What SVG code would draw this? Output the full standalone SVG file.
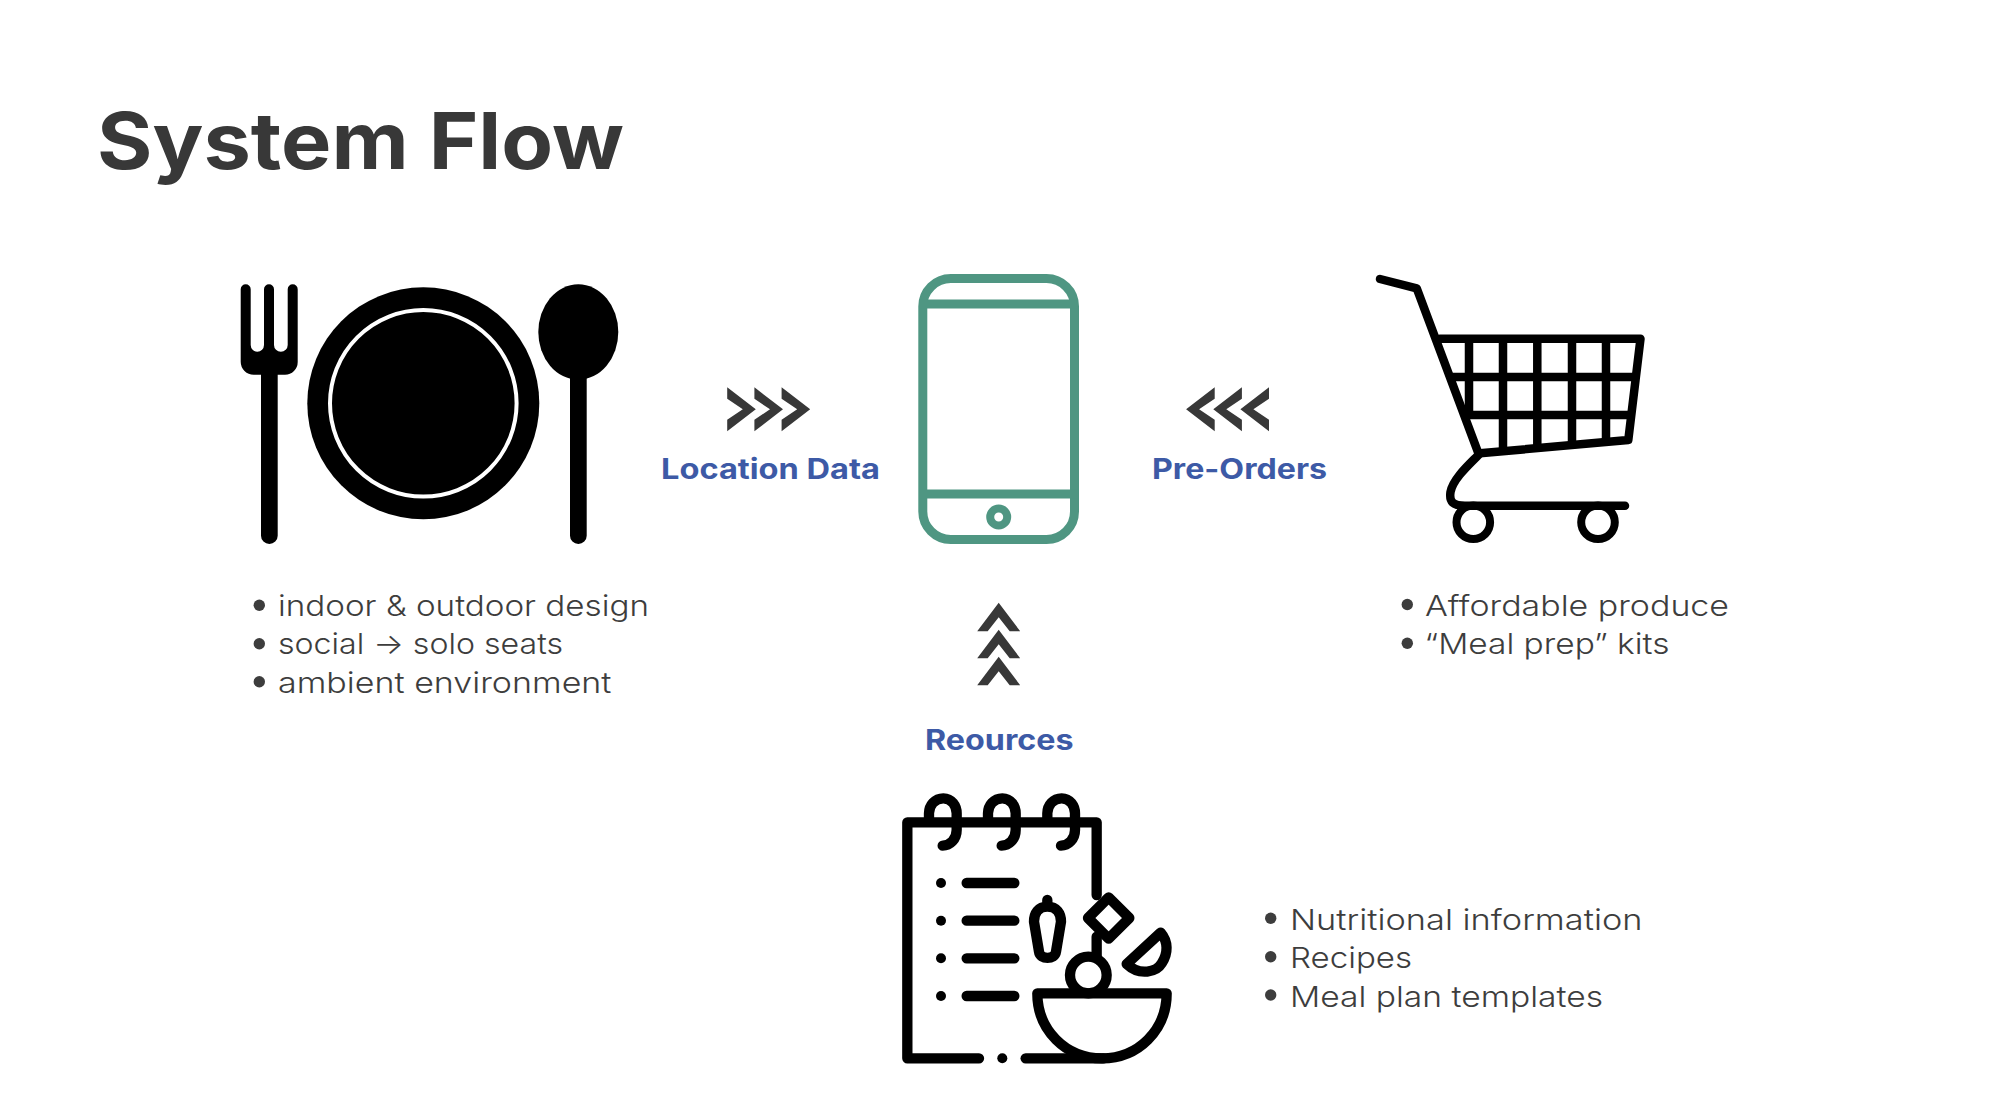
<svg xmlns="http://www.w3.org/2000/svg" width="1992" height="1105" viewBox="0 0 1992 1105">
<style>
.title{font:700 78px Inter,"Liberation Sans",sans-serif;fill:#383838}
.label{font:700 28px Inter,"Liberation Sans",sans-serif;fill:#3d5aa6}
.body{font:300 29px Inter,"Liberation Sans",sans-serif;fill:#3d3d3d}
.chev{fill:#383838}
.ink{fill:none;stroke:#000;stroke-linecap:round;stroke-linejoin:round}
.phone{fill:none;stroke:#4f9682;stroke-width:9}
</style>
<defs>
<polygon id="cr" points="0,-22 28.6,0 0,22 0,10.5 15.6,0 0,-10.5"/>
<polygon id="cu" points="-21.5,14.3 0,-14.3 21.5,14.3 11,14.3 0,0.3 -11,14.3"/>
</defs>
<rect width="1992" height="1105" fill="#fff"/>
<text class="title" x="97" y="169" textLength="527" lengthAdjust="spacingAndGlyphs">System Flow</text>
<g id="node-dining">
<path d="M240.7 289.3a5 5 0 0 1 10 0V345a5.5 5.5 0 0 0 13.3 0V289.3a5 5 0 0 1 10 0V345a5.5 5.5 0 0 0 13.7 0V289.3a5 5 0 0 1 10 0V362a12.7 12.7 0 0 1-12.7 12.7h-7.3V535.7a8.3 8.3 0 0 1-16.7 0V374.7h-7.3a13 13 0 0 1-13-13z" fill="#000"/>
<circle cx="423.3" cy="403.3" r="116"/>
<circle cx="423.3" cy="403.3" r="93.3" fill="none" stroke="#fff" stroke-width="4"/>
<ellipse cx="578.3" cy="332" rx="40" ry="47.7"/>
<path d="M570 370h16.7V535.7a8.3 8.3 0 0 1-16.7 0z"/>
<g id="list-dining">
<circle cx="259.3" cy="605.3" r="5.7" fill="#3d3d3d"/><circle cx="259.3" cy="643.7" r="5.7" fill="#3d3d3d"/><circle cx="259.3" cy="681.7" r="5.7" fill="#3d3d3d"/>
<text class="body" x="278" y="616" textLength="371" lengthAdjust="spacingAndGlyphs">indoor &amp; outdoor design</text>
<text class="body" x="278" y="654" textLength="285" lengthAdjust="spacingAndGlyphs">social → solo seats</text>
<text class="body" x="278" y="693" textLength="333.5" lengthAdjust="spacingAndGlyphs">ambient environment</text>
</g>
</g>
<g id="node-phone">
<rect class="phone" x="922.8" y="278.5" width="151.7" height="261" rx="28" ry="28"/>
<path class="phone" d="M920 304H1077M920 494H1077"/>
<circle cx="998.7" cy="517" r="8.5" fill="none" stroke="#4f9682" stroke-width="8"/>
</g>
<g id="node-cart">
<g class="ink" stroke-width="8.5">
<path d="M1380 279L1416.7 288.3L1478.3 453"/>
<path d="M1440 338.7H1640.5L1628.3 440L1480 453.3"/>
<path d="M1469 339V418M1503 339V450M1537.3 339V447M1572 339V444M1606 339V441" stroke-linecap="butt"/>
<path d="M1449 377H1636M1465 415H1631" stroke-linecap="butt"/>
<path d="M1480 453.3C1472 462 1453 478 1450.5 492C1449 502 1453 505.7 1465 505.7H1625"/>
</g>
<circle cx="1473.3" cy="522.3" r="16.8" fill="none" stroke="#000" stroke-width="8"/>
<circle cx="1598" cy="522.3" r="16.8" fill="none" stroke="#000" stroke-width="8"/>
<g id="list-cart">
<circle cx="1407.3" cy="604.5" r="5.7" fill="#3d3d3d"/><circle cx="1407.3" cy="643.3" r="5.7" fill="#3d3d3d"/>
<text class="body" x="1425" y="616" textLength="304" lengthAdjust="spacingAndGlyphs">Affordable produce</text>
<text class="body" x="1424.5" y="654.3" textLength="245" lengthAdjust="spacingAndGlyphs">“Meal prep” kits</text>
</g>
</g>
<g id="node-resources">
<g transform="translate(890 780) scale(.33333)" class="ink" stroke-width="31">
<path d="M267 835H52V127H620V345M620 470V530"/>
<path d="M117 120V100C117 75 135 55 160 55C185 55 200 78 200 100V150C200 178 180 197 158 197M294 120V100C294 75 312 55 337 55C362 55 377 78 377 100V150C377 178 357 197 335 197M472 120V100C472 75 490 55 515 55C540 55 555 78 555 100V150C555 178 535 197 513 197"/>
<path d="M230 309H373M230 422H373M230 535H373M230 648H373"/>
<path d="M407 835H640"/>
<path d="M442 640H830C830 750 745 835 636 835C527 835 442 750 442 640Z"/>
<circle cx="595" cy="585" r="55"/>
<path d="M656 352L718 414L656 476L594 414Z"/>
<path d="M812 458L710 552C750 590 800 575 815 550C835 520 835 485 812 458Z"/>
<path d="M472 380C445 380 432 400 432 425L447 515C450 540 495 540 498 515L513 425C513 400 500 380 472 380ZM472 360V380"/>
</g>
<g>
<circle cx="941" cy="883" r="5"/><circle cx="941" cy="920.7" r="5"/><circle cx="941" cy="958.3" r="5"/><circle cx="941" cy="996" r="5"/><circle cx="1002.3" cy="1058.3" r="5"/>
</g>
<g id="list-resources">
<circle cx="1270.7" cy="918.3" r="5.7" fill="#3d3d3d"/><circle cx="1270.7" cy="956.7" r="5.7" fill="#3d3d3d"/><circle cx="1270.7" cy="995" r="5.7" fill="#3d3d3d"/>
<text class="body" x="1290" y="930.3" textLength="352.5" lengthAdjust="spacingAndGlyphs">Nutritional information</text>
<text class="body" x="1290" y="968" textLength="122" lengthAdjust="spacingAndGlyphs">Recipes</text>
<text class="body" x="1290" y="1006.7" textLength="313" lengthAdjust="spacingAndGlyphs">Meal plan templates</text>
</g>
</g>
<g id="connectors">
<g class="chev">
<use href="#cr" x="727.2" y="409.3"/><use href="#cr" x="754.4" y="409.3"/><use href="#cr" x="781.6" y="409.3"/>
<use href="#cr" transform="translate(1214.7 409.3) scale(-1 1)"/><use href="#cr" transform="translate(1241.9 409.3) scale(-1 1)"/><use href="#cr" transform="translate(1269 409.3) scale(-1 1)"/>
<use href="#cu" x="998.7" y="617"/><use href="#cu" x="998.7" y="644"/><use href="#cu" x="998.7" y="671"/>
</g>
<text class="label" x="661" y="479" textLength="219" lengthAdjust="spacingAndGlyphs">Location Data</text>
<text class="label" x="1152" y="479" textLength="175" lengthAdjust="spacingAndGlyphs">Pre-Orders</text>
<text class="label" x="925" y="750" textLength="148.5" lengthAdjust="spacingAndGlyphs">Reources</text>
</g>
</svg>
